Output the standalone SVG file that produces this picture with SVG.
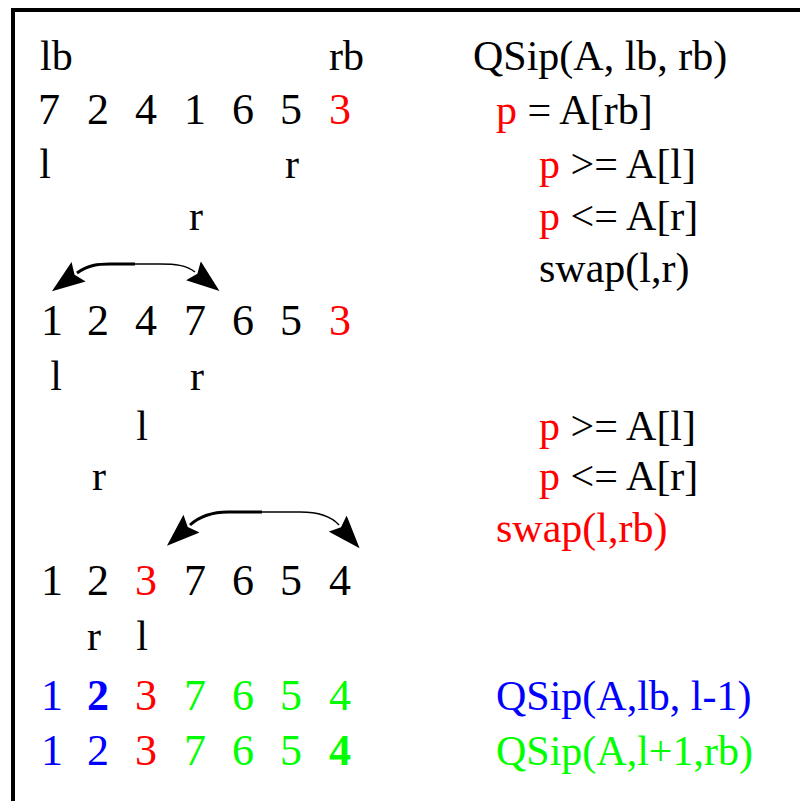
<svg xmlns="http://www.w3.org/2000/svg" width="800" height="801" viewBox="0 0 800 801">
  <style>
    text { font-family: "Liberation Serif", "Times New Roman", serif; font-size: 42px; fill: #000; }
    .num { font-size: 44px; text-anchor: middle; }
    .lbl { text-anchor: middle; }
    .red { fill: #ff0000; }
    .blue { fill: #0000ff; }
    .green { fill: #00ff00; }
    .bold { font-weight: bold; }
    .arc-thick { fill: none; stroke: #000; stroke-width: 3; }
    .arc-thin { fill: none; stroke: #000; stroke-width: 1.5; }
  </style>
  <defs>
    <marker id="head" markerUnits="userSpaceOnUse" viewBox="0 0 33 24" markerWidth="33" markerHeight="24" refX="2" refY="12" orient="auto-start-reverse">
      <path d="M0,0 L33,12 L0,24 L5,12 Z" fill="#000"/>
    </marker>
  </defs>

  <rect x="13" y="10" width="800" height="800" fill="#fff" stroke="#000" stroke-width="4"/>

  <!-- array states -->
  <g id="bounds">
    <text x="40" y="70">lb</text>
    <text x="329" y="70">rb</text>
  </g>
  <g id="row1">
    <text class="num" x="49" y="124">7</text>
    <text class="num" x="98" y="124">2</text>
    <text class="num" x="146" y="124">4</text>
    <text class="num" x="195" y="124">1</text>
    <text class="num" x="243" y="124">6</text>
    <text class="num" x="291" y="124">5</text>
    <text class="num red" x="340" y="124">3</text>
  </g>
  <g id="ptr1">
    <text class="lbl" x="45" y="178">l</text>
    <text class="lbl" x="292" y="178">r</text>
    <text class="lbl" x="196" y="230">r</text>
  </g>
  <g id="row2">
    <text class="num" x="52" y="335">1</text>
    <text class="num" x="98" y="335">2</text>
    <text class="num" x="146" y="335">4</text>
    <text class="num" x="195" y="335">7</text>
    <text class="num" x="243" y="335">6</text>
    <text class="num" x="291" y="335">5</text>
    <text class="num red" x="340" y="335">3</text>
  </g>
  <g id="ptr2">
    <text class="lbl" x="56" y="390">l</text>
    <text class="lbl" x="197" y="390">r</text>
    <text class="lbl" x="142" y="440">l</text>
    <text class="lbl" x="99" y="490">r</text>
  </g>
  <g id="row3">
    <text class="num" x="52" y="595">1</text>
    <text class="num" x="98" y="595">2</text>
    <text class="num red" x="146" y="595">3</text>
    <text class="num" x="195" y="595">7</text>
    <text class="num" x="243" y="595">6</text>
    <text class="num" x="291" y="595">5</text>
    <text class="num" x="340" y="595">4</text>
  </g>
  <g id="ptr3">
    <text class="lbl" x="94" y="650">r</text>
    <text class="lbl" x="142" y="650">l</text>
  </g>
  <g id="row4">
    <text class="num blue" x="52" y="710">1</text>
    <text class="num blue bold" x="98" y="710">2</text>
    <text class="num red" x="146" y="710">3</text>
    <text class="num green" x="195" y="710">7</text>
    <text class="num green" x="243" y="710">6</text>
    <text class="num green" x="291" y="710">5</text>
    <text class="num green" x="340" y="710">4</text>
  </g>
  <g id="row5">
    <text class="num blue" x="52" y="765">1</text>
    <text class="num blue" x="98" y="765">2</text>
    <text class="num red" x="146" y="765">3</text>
    <text class="num green" x="195" y="765">7</text>
    <text class="num green" x="243" y="765">6</text>
    <text class="num green" x="291" y="765">5</text>
    <text class="num green bold" x="340" y="765">4</text>
  </g>

  <!-- pseudo-code -->
  <g id="code">
    <text x="473" y="70">QSip(A, lb, rb)</text>
    <text x="496" y="124"><tspan class="red">p</tspan> = A[rb]</text>
    <text x="539" y="178"><tspan class="red">p</tspan> &gt;= A[l]</text>
    <text x="539" y="230"><tspan class="red">p</tspan> &lt;= A[r]</text>
    <text x="539" y="282">swap(l,r)</text>
    <text x="539" y="440"><tspan class="red">p</tspan> &gt;= A[l]</text>
    <text x="539" y="490"><tspan class="red">p</tspan> &lt;= A[r]</text>
    <text class="red" x="496" y="542">swap(l,rb)</text>
    <text class="blue" x="496" y="710">QSip(A,lb, l-1)</text>
    <text class="green" x="496" y="765">QSip(A,l+1,rb)</text>
  </g>

  <!-- swap arcs -->
  <g id="connectors">
    <g id="swap1">
      <path class="arc-thick" d="M77,273 C88,265 98,264 110,264 L135,264" marker-start="url(#head)"/>
      <path class="arc-thin" d="M135,264 L160,264 C175,264 186,265 195,272" marker-end="url(#head)"/>
    </g>
    <g id="swap2">
      <path class="arc-thick" d="M190,525 C200,516 212,512 228,512 L262,512" marker-start="url(#head)"/>
      <path class="arc-thin" d="M262,512 L300,512 C318,512 331,516 339,525" marker-end="url(#head)"/>
    </g>
  </g>
</svg>
